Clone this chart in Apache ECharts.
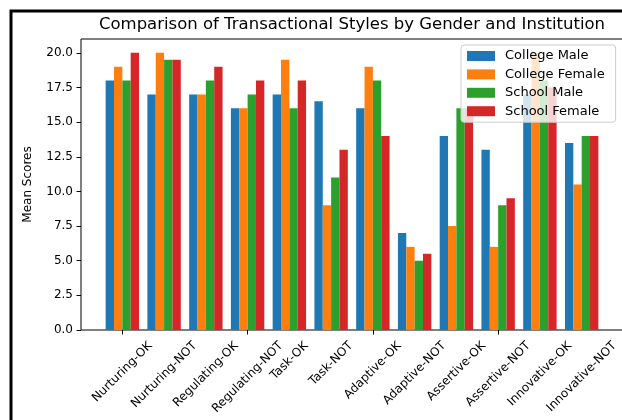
<!DOCTYPE html>
<html>
<head>
<meta charset="utf-8">
<script src="https://cdn.jsdelivr.net/npm/echarts@6/dist/echarts.min.js"></script>
<style>
  html, body { margin: 0; padding: 0; background: #fff; }
  #chart { width: 622px; height: 420px; }
</style>
</head>
<body>
<div id="chart"></div>
<script>
// categories and mean scores
const categories = [
  'Nurturing-OK', 'Nurturing-NOT', 'Regulating-OK', 'Regulating-NOT',
  'Task-OK', 'Task-NOT', 'Adaptive-OK', 'Adaptive-NOT',
  'Assertive-OK', 'Assertive-NOT', 'Innovative-OK', 'Innovative-NOT'
];
const seriesNames = ['College Male', 'College Female', 'School Male', 'School Female'];
const collegeMale   = [18, 17, 17, 16, 17, 16.5, 16, 7, 14, 13, 17, 13.5];
const collegeFemale = [19, 20, 17, 16, 19.5, 9, 19, 6, 7.5, 6, 20, 10.5];
const schoolMale    = [18, 19.5, 18, 17, 16, 11, 18, 5, 16, 9, 18, 14];
const schoolFemale  = [20, 19.5, 19, 18, 18, 13, 14, 5.5, 16, 9.5, 17.5, 14];
const yTicks = [0, 2.5, 5, 7.5, 10, 12.5, 15, 17.5, 20];

const colors = ['#1f77b4', '#ff7f0e', '#2ca02c', '#d62728'];
const FONT = 'DejaVu Sans';

// plot box (matplotlib axes)
const axLeft = 81, axTop = 39, axWidth = 542, axHeight = 291;
// x limits of the bars in category units (margins like matplotlib)
const xlimLo = -0.99, xlimHi = 11.99;
const unit = axWidth / (xlimHi - xlimLo);
const barGridLeft = axLeft + (-0.5 - xlimLo) * unit;
const barGridWidth = categories.length * unit;

const data = [collegeMale, collegeFemale, schoolMale, schoolFemale];

const frame = {
  type: 'rect',
  z: 100,
  silent: true,
  shape: { x: 11, y: 11, width: 700, height: 500 },
  style: { fill: null, stroke: '#000', lineWidth: 3 }
};

const chart = echarts.init(document.getElementById('chart'));
chart.setOption({
  backgroundColor: '#fff',
  animation: false,
  textStyle: { fontFamily: FONT },
  title: {
    text: 'Comparison of Transactional Styles by Gender and Institution',
    left: axLeft + axWidth / 2,
    textAlign: 'center',
    top: 16,
    padding: 0,
    textStyle: { fontFamily: FONT, fontSize: 16.5, fontWeight: 'normal', color: '#000' }
  },
  legend: {
    data: seriesNames,
    orient: 'vertical',
    left: 461,
    top: 45,
    padding: [4, 11, 4, 6],
    itemWidth: 28,
    itemHeight: 10,
    itemGap: 4.4,
    icon: 'rect',
    backgroundColor: 'rgba(255,255,255,0.8)',
    borderColor: '#cccccc',
    borderWidth: 1,
    borderRadius: 3,
    textStyle: { fontFamily: FONT, fontSize: 13, color: '#000', lineHeight: 14, padding: [0, 0, 0, 5] }
  },
  grid: [
    {
      left: axLeft, top: axTop, width: axWidth, height: axHeight,
      show: true, borderColor: '#000', borderWidth: 1, backgroundColor: '#fff',
      outerBoundsMode: 'none', containLabel: false
    },
    {
      left: barGridLeft, top: axTop, width: barGridWidth, height: axHeight,
      outerBoundsMode: 'none', containLabel: false
    }
  ],
  xAxis: [
    { type: 'value', gridIndex: 0, min: 0, max: 1, show: false },
    {
      type: 'category',
      gridIndex: 1,
      data: categories,
      axisLine: { show: false },
      axisTick: { show: true, alignWithLabel: true, length: 4.5, lineStyle: { color: '#000' } },
      // labels are drawn below, centred under each tick like matplotlib does
      axisLabel: { show: false },
      splitLine: { show: false }
    }
  ],
  yAxis: [
    {
      type: 'value',
      gridIndex: 0,
      min: 0,
      max: 21,
      name: 'Mean Scores',
      nameLocation: 'middle',
      nameGap: 47,
      nameTextStyle: { fontFamily: FONT, fontSize: 12, color: '#000' },
      axisLine: { show: false },
      axisTick: { show: true, length: 4.5, lineStyle: { color: '#000' }, customValues: yTicks },
      axisLabel: {
        margin: 8,
        fontFamily: FONT,
        fontSize: 12,
        color: '#000',
        customValues: yTicks,
        formatter: function (v) { return v.toFixed(1); }
      },
      splitLine: { show: false }
    },
    { type: 'value', gridIndex: 1, min: 0, max: 21, show: false }
  ],
  series: seriesNames.map(function (name, i) {
    return {
      name: name,
      type: 'bar',
      xAxisIndex: 1,
      yAxisIndex: 1,
      data: data[i],
      barWidth: '20%',
      barGap: '0%',
      itemStyle: { color: colors[i] }
    };
  }),
  graphic: [frame]
});

// rotated tick labels: text centre sits under the tick, box top hangs at a fixed line
const ctx = document.createElement('canvas').getContext('2d');
const labelFont = '12px "' + FONT + '"';
ctx.font = labelFont;
const baseY = chart.convertToPixel({ yAxisIndex: 1 }, 0);
const labelTop = 9, textH = 14;
const tickLabels = categories.map(function (c) {
  const w = ctx.measureText(c).width;
  return {
    type: 'text',
    silent: true,
    x: chart.convertToPixel({ xAxisIndex: 1 }, c),
    y: baseY + labelTop + 0.3536 * (w + textH),
    rotation: Math.PI / 4,
    style: { text: c, font: labelFont, fill: '#000', align: 'center', verticalAlign: 'middle' }
  };
});
chart.setOption({ graphic: [frame].concat(tickLabels) });
</script>
</body>
</html>
